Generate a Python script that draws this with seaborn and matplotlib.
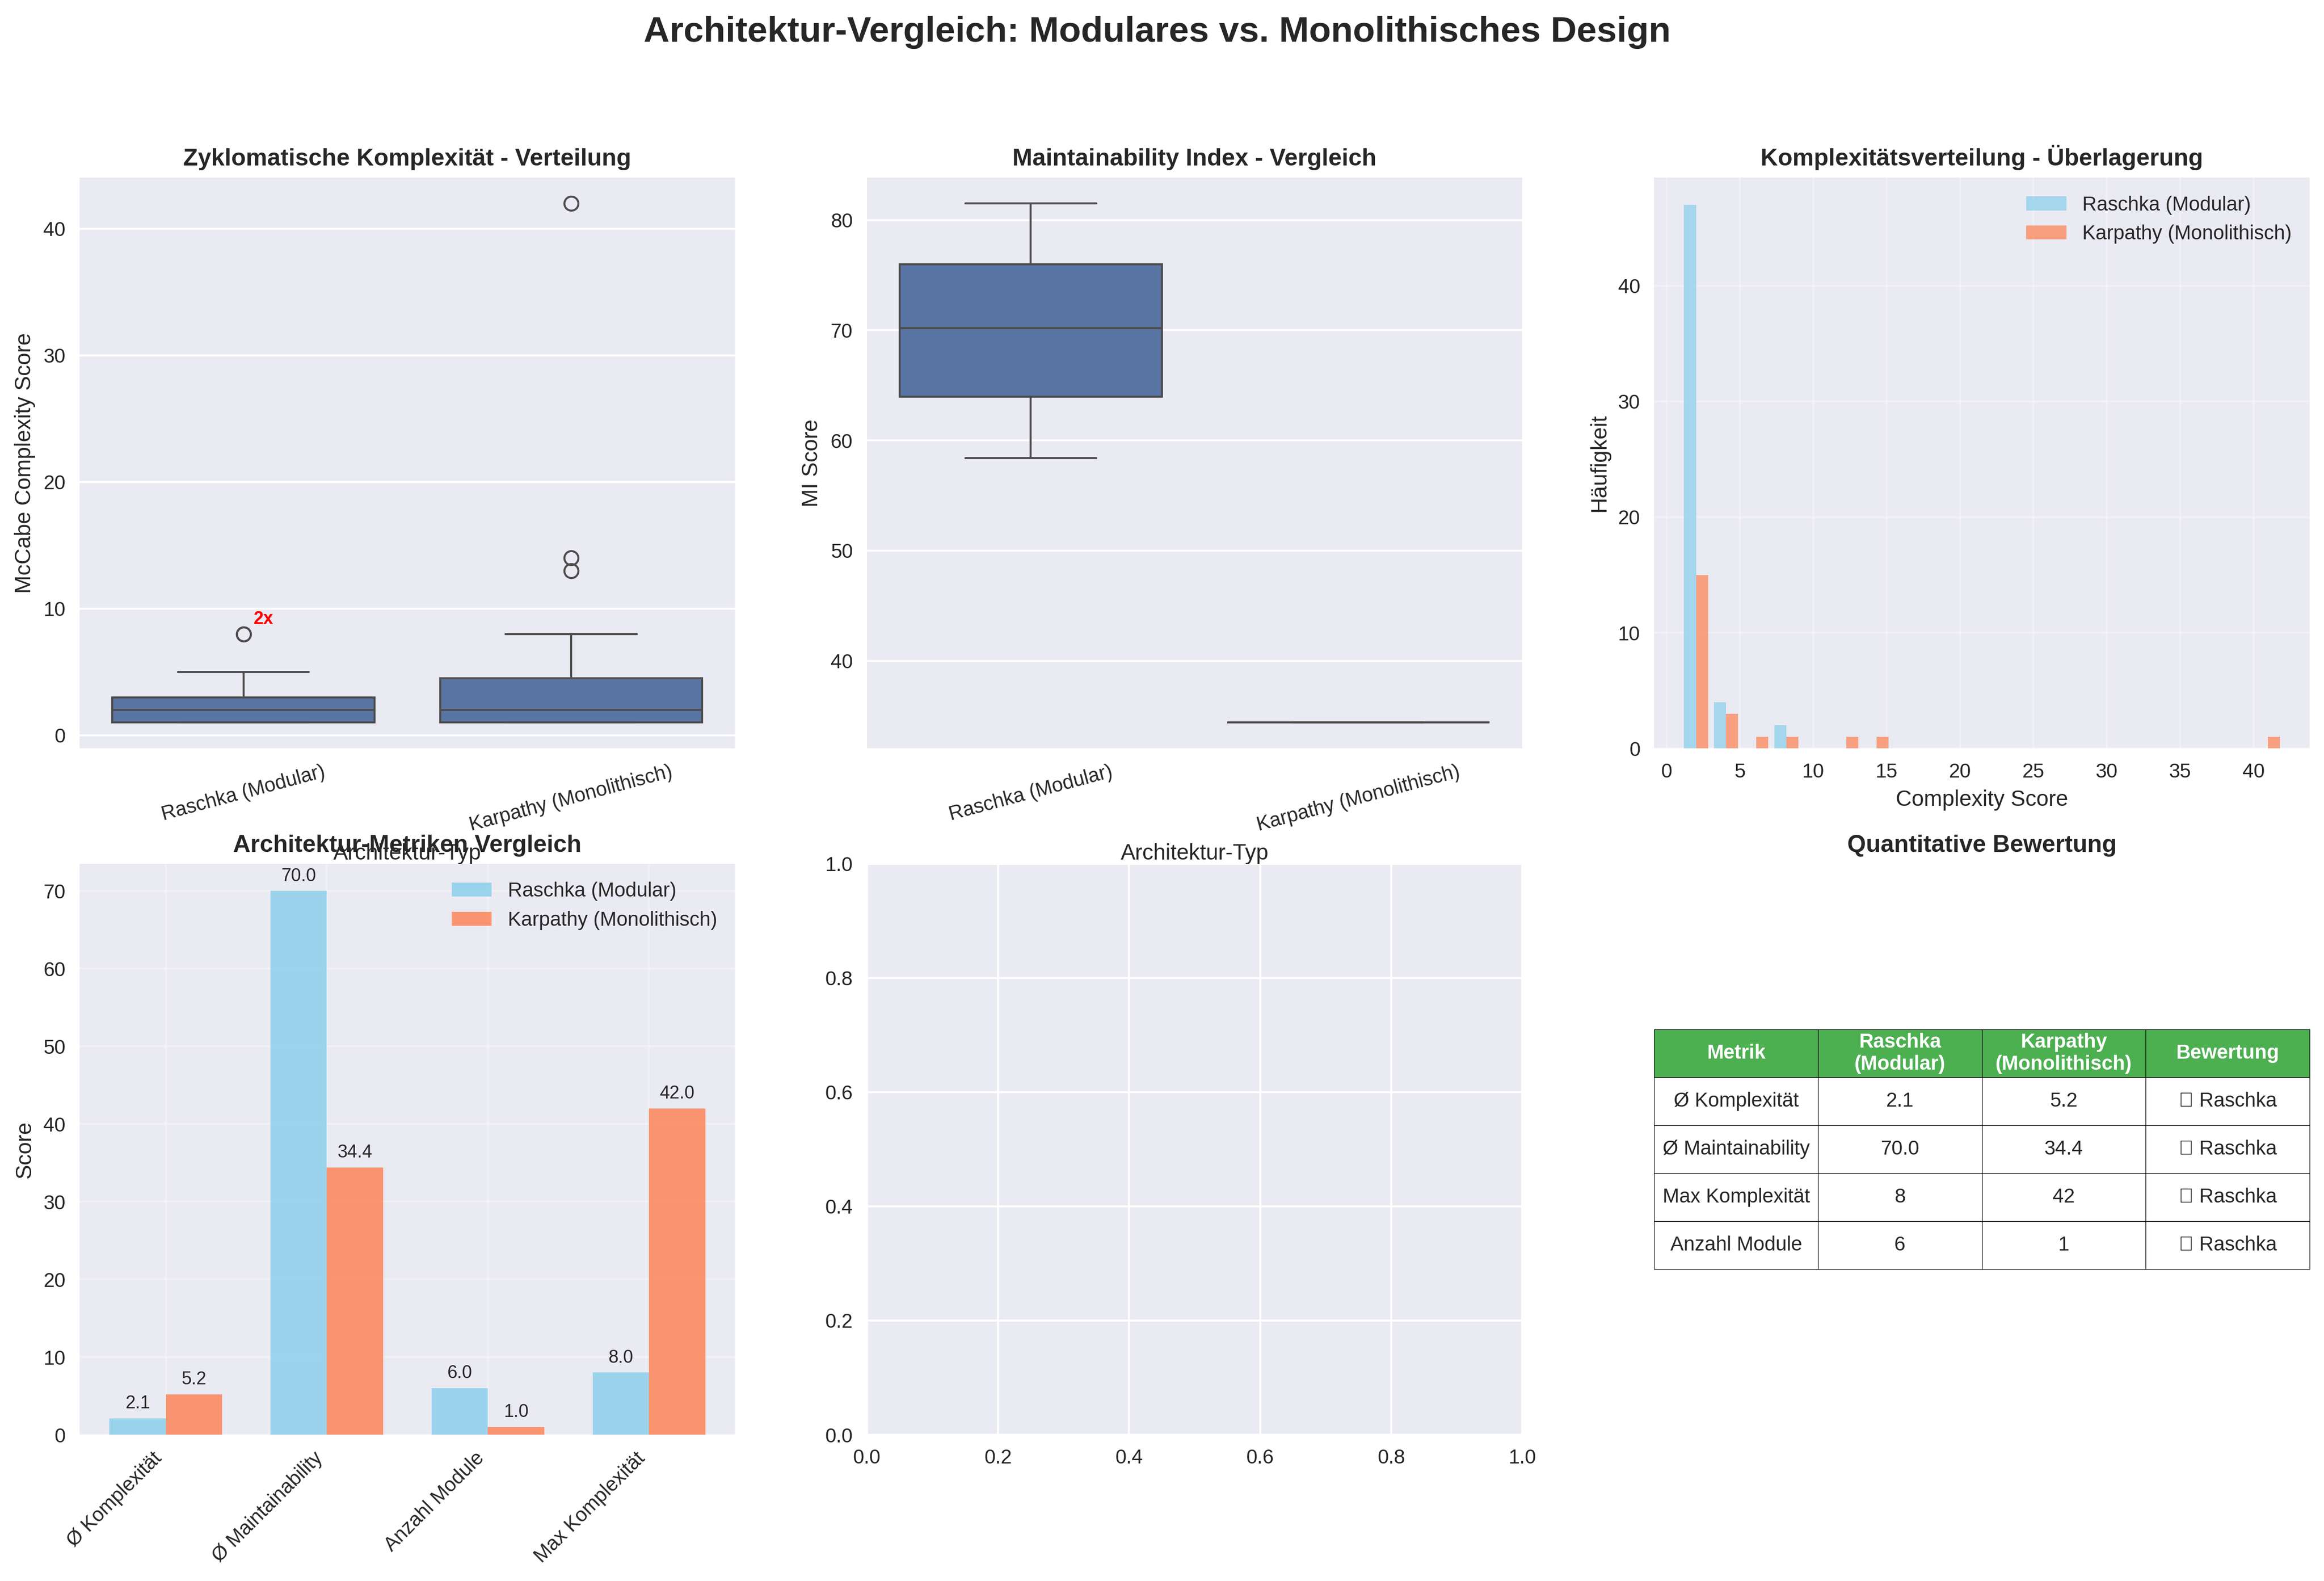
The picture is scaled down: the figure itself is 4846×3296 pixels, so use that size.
import matplotlib
matplotlib.use("Agg")
import matplotlib.pyplot as plt
import numpy as np
import pandas as pd
import seaborn as sns

# Labels
raschka = "Raschka (Modular)"
karpathy = "Karpathy (Monolithisch)"

# Complexity scores per function, as distinct value + how often it occurs
raschka_cc_values = [1, 2, 3, 4, 5, 8]
raschka_cc_counts = [25, 13, 9, 3, 1, 2]
karpathy_cc_values = [1, 2, 3, 4, 5, 6, 8, 13, 14, 42]
karpathy_cc_counts = [8, 5, 2, 2, 1, 1, 1, 1, 1, 1]

# Maintainability index
raschka_mi = [58.4, 63.4, 65.7, 74.7, 76.4, 81.5]
karpathy_mi = [34.4]

# Metrics bars
metric_names = ["Ø Komplexität", "Ø Maintainability", "Anzahl Module", "Max Komplexität"]
raschka_scores = [2.1, 70.0, 6.0, 8.0]
karpathy_scores = [5.2, 34.4, 1.0, 42.0]

# Table
table_header = ["Metrik", "Raschka\n(Modular)", "Karpathy\n(Monolithisch)", "Bewertung"]
table_metrics = ["Ø Komplexität", "Ø Maintainability", "Max Komplexität", "Anzahl Module"]
table_raschka = ["2.1", "70.0", "8", "6"]
table_karpathy = ["5.2", "34.4", "42", "1"]
table_rating = ["✅ Raschka", "✅ Raschka", "✅ Raschka", "✅ Raschka"]

colors = {raschka: "skyblue", karpathy: "coral"}

# Build tables
cc_df = pd.DataFrame({
    "typ": [raschka] * sum(raschka_cc_counts) + [karpathy] * sum(karpathy_cc_counts),
    "cc": np.concatenate([
        np.repeat(raschka_cc_values, raschka_cc_counts),
        np.repeat(karpathy_cc_values, karpathy_cc_counts),
    ]),
})
mi_df = pd.DataFrame({
    "typ": [raschka] * len(raschka_mi) + [karpathy] * len(karpathy_mi),
    "mi": raschka_mi + karpathy_mi,
})
score_df = pd.DataFrame({
    "metrik": metric_names * 2,
    "typ": [raschka] * 4 + [karpathy] * 4,
    "score": raschka_scores + karpathy_scores,
})

plt.style.use("seaborn-v0_8")
plt.rcParams["font.family"] = ["Liberation Sans", "DejaVu Sans", "Noto Sans", "Noto Sans CJK SC"]

fig, axes = plt.subplots(2, 3, figsize=(4846 / 300, 3296 / 300))
fig.subplots_adjust(left=166 / 4846, right=4816 / 4846, top=1 - 370 / 3296,
                    bottom=1 - 2991 / 3296, wspace=0.2012, hspace=0.2017)
fig.suptitle("Architektur-Vergleich: Modulares vs. Monolithisches Design",
             fontsize=18, fontweight="bold", x=0.498, y=0.9795, va="center")

# Complexity boxplot
ax = axes[0, 0]
sns.boxplot(data=cc_df, x="typ", y="cc", ax=ax)
ax.set_title("Zyklomatische Komplexität - Verteilung", fontweight="bold", fontsize=12)
ax.set_xlabel("Architektur-Typ")
ax.set_ylabel("McCabe Complexity Score")
ax.tick_params(axis="x", rotation=15)
ax.annotate("2x", xy=(0, 8), xytext=(5, 5), textcoords="offset points",
            fontsize=9, fontweight="bold", color="red")

# MI boxplot
ax = axes[0, 1]
sns.boxplot(data=mi_df, x="typ", y="mi", ax=ax)
ax.set_title("Maintainability Index - Vergleich", fontweight="bold", fontsize=12)
ax.set_xlabel("Architektur-Typ")
ax.set_ylabel("MI Score")
ax.tick_params(axis="x", rotation=15)

# Histogram
ax = axes[0, 2]
sns.histplot(data=cc_df, x="cc", hue="typ", bins=20, multiple="dodge", shrink=0.8,
             palette=colors, alpha=0.7, linewidth=0, ax=ax)
sns.move_legend(ax, "upper right", title=None, fontsize=10)
ax.set_title("Komplexitätsverteilung - Überlagerung", fontweight="bold", fontsize=12)
ax.set_xlabel("Complexity Score")
ax.set_ylabel("Häufigkeit")
ax.grid(True, alpha=0.3)

# Metric bars
ax = axes[1, 0]
sns.barplot(data=score_df, x="metrik", y="score", hue="typ", palette=colors,
            width=0.7, gap=0, saturation=1, alpha=0.8, ax=ax)
for bars in ax.containers:
    for bar in bars:
        ax.annotate(f"{bar.get_height():.1f}",
                    xy=(bar.get_x() + bar.get_width() / 2, bar.get_height()),
                    xytext=(0, 3), textcoords="offset points",
                    ha="center", va="bottom", fontsize=9)
ax.set_xlim(-0.535, 3.535)
ax.set_title("Architektur-Metriken Vergleich", fontweight="bold", fontsize=12)
ax.set_xlabel("")
ax.set_ylabel("Score")
ax.set_xticks(range(len(metric_names)), metric_names, rotation=45, ha="right")
ax.grid(True, alpha=0.3)
sns.move_legend(ax, "upper right", title=None, fontsize=10)

# Empty panel stays as it is
axes[1, 1].set_xlim(0, 1)
axes[1, 1].set_ylim(0, 1)

# Table
ax = axes[1, 2]
ax.axis("off")
ax.set_title("Quantitative Bewertung", fontweight="bold", fontsize=12)
rows = list(zip(table_metrics, table_raschka, table_karpathy, table_rating))
table = ax.table(cellText=rows, colLabels=table_header, cellLoc="center", loc="center",
                 colWidths=[0.25] * 4)
table.auto_set_font_size(False)
table.set_fontsize(10)
for (row, col), cell in table.get_celld().items():
    cell.set_height(100 / 1190)
    if row == 0:
        cell.set_facecolor("#4CAF50")
        cell.set_text_props(color="white", fontweight="bold")

plt.savefig("out.png", dpi=300)
plt.close()
